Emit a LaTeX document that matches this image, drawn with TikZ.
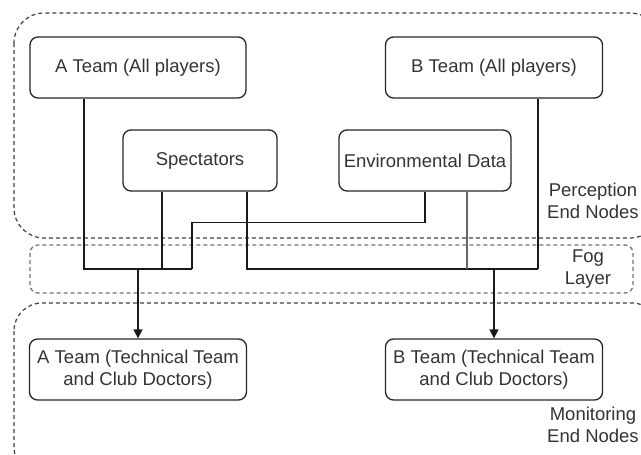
\documentclass[tikz,border=0pt]{standalone}
\usepackage{fontspec}
\setmainfont{Liberation Sans}
\usetikzlibrary{arrows.meta}
\begin{document}
\begin{tikzpicture}[x=1pt,y=-1pt,
  font=\fontsize{18.5}{22}\selectfont,
  box/.style={draw=black!85, line width=1.3pt, rounded corners=8pt, text=black!80,
              align=center, inner sep=0pt},
  region/.style={draw=black!75, line width=1.2pt, dash pattern=on 4pt off 3pt},
  foglayer/.style={draw=black!55, line width=1.3pt, dash pattern=on 4pt off 3pt, rounded corners=8pt},
  conn/.style={draw=black!90, line width=1.3pt},
  feed/.style={draw=black!60, line width=1.3pt},
  tip/.style={conn, -{Triangle[length=9pt,width=9pt]}},
  lbl/.style={text=black!80, align=center, inner sep=0pt}]
\useasboundingbox (0,0) rectangle (641,455);
\begin{scope}
\clip (0,0) rectangle (641,455);
% dashed containers for the three tiers
\draw[region, rounded corners=30pt] (14,13) rectangle (660,238);
\draw[foglayer] (30,245) rectangle (633,293);
\draw[region, rounded corners=28pt] (14,303) rectangle (660,475);
\end{scope}

% perception end nodes
\node[box, minimum width=216pt, minimum height=61pt] (ap) at (138,67.5) {A Team (All players)};
\node[box, minimum width=217pt, minimum height=61pt] (bp) at (494,67.5) {B Team (All players)};
\node[box, minimum width=154pt, minimum height=61pt] (sp) at (200,160.5) {Spectators};
\node[box, minimum width=172pt, minimum height=61pt] (ev) at (425,160.5) {Environmental Data};

% monitoring end nodes
\node[box, minimum width=217pt, minimum height=61pt] (am) at (138,369.5) {A Team (Technical Team\\and Club Doctors)};
\node[box, minimum width=217pt, minimum height=61pt] (bm) at (494,369.5) {B Team (Technical Team\\and Club Doctors)};

% tier labels
\node[lbl] (lp) at (593,201) {Perception\\End Nodes};
\node[lbl] (lf) at (588,269.5) {Fog\\Layer};
\node[lbl] (lm) at (593,425) {Monitoring\\End Nodes};

% junction points in the fog layer
\coordinate (ja) at (138,269);
\coordinate (ea) at (192,269);
\coordinate (jb) at (494,269);
\coordinate (eb) at (538,269);

% feeds towards team A
\draw[conn] ([xshift=-54pt]ap.south) |- (ea);
\draw[conn] ([xshift=-38pt]sp.south) -- ([xshift=-38pt]sp.south |- ja);
\draw[conn] (ev.south) -- ++(0,31) -| (ea);
\draw[tip] (ja) -- (am.north);

% feeds towards team B
\draw[conn] ([xshift=47pt]sp.south) |- (eb);
\draw[conn] ([xshift=44pt]bp.south) -- (eb);
\draw[feed] ([xshift=42pt]ev.south) -- ([xshift=42pt]ev.south |- jb);
\draw[tip] (jb) -- (bm.north);
\end{tikzpicture}
\end{document}
